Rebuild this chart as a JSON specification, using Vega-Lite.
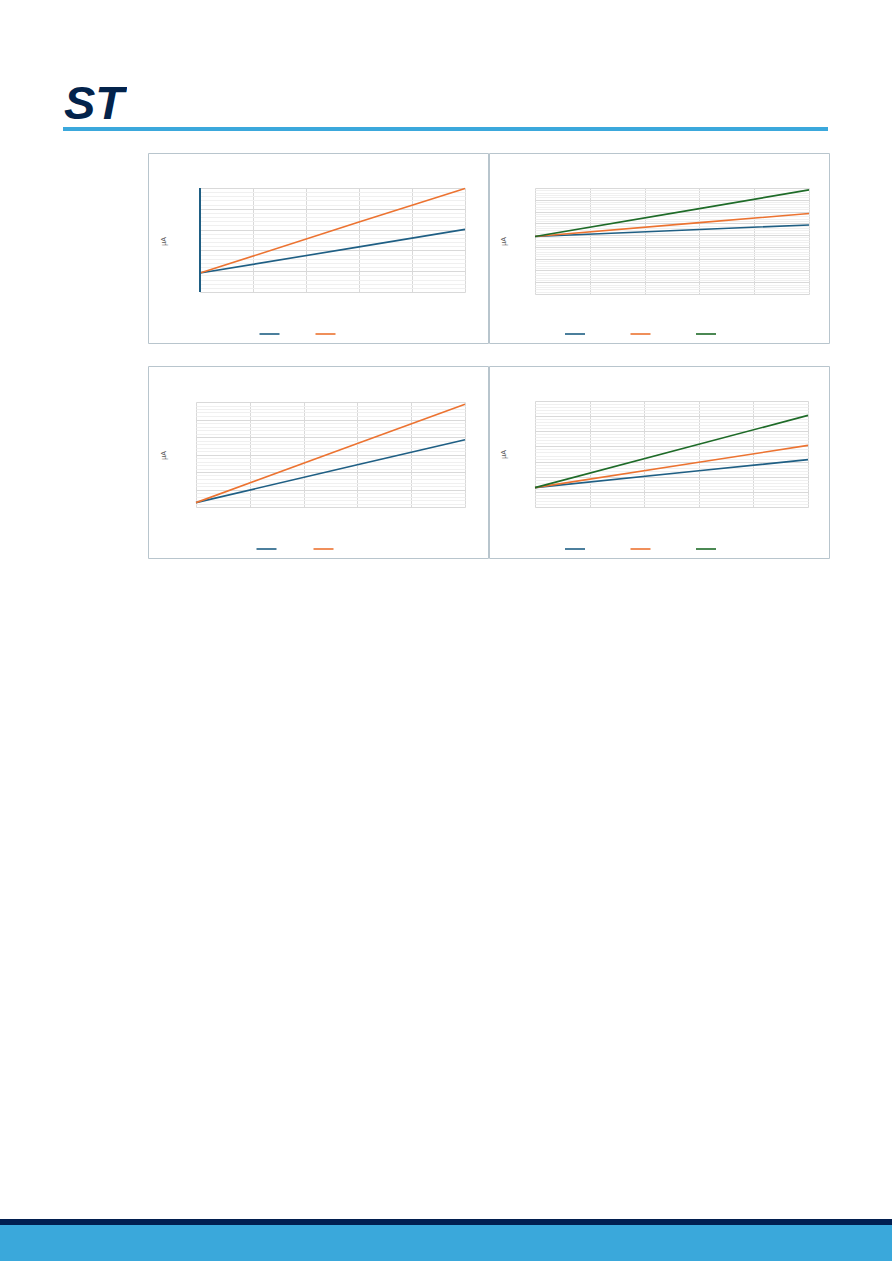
{
  "$schema": "https://vega.github.io/schema/vega-lite/v6.json",
  "padding": 0,
  "background": "#ffffff",
  "spacing": 0,
  "resolve": {"scale": {"color": "independent"}},
  "config": {"view": {"stroke": null}, "font": "Liberation Sans"},
  "datasets": {
    "logo": [{"t": "ST"}],
    "p1": [
      {"x": 0, "y": 0.91, "s": "s1"}, {"x": 3, "y": 2.17, "s": "s1"}, {"x": 5, "y": 3.01, "s": "s1"},
      {"x": 0, "y": 0.91, "s": "s2"}, {"x": 3, "y": 3.36, "s": "s2"}, {"x": 5, "y": 4.98, "s": "s2"}
    ],
    "p2": [
      {"x": 0, "y": 4.88, "s": "s1"}, {"x": 3, "y": 5.48, "s": "s1"}, {"x": 5, "y": 5.86, "s": "s1"},
      {"x": 0, "y": 4.88, "s": "s2"}, {"x": 3, "y": 6.06, "s": "s2"}, {"x": 5, "y": 6.83, "s": "s2"},
      {"x": 0, "y": 4.88, "s": "s3"}, {"x": 3, "y": 7.25, "s": "s3"}, {"x": 5, "y": 8.84, "s": "s3"}
    ],
    "p3": [
      {"x": 0, "y": 0.25, "s": "s1"}, {"x": 3, "y": 2.41, "s": "s1"}, {"x": 5, "y": 3.84, "s": "s1"},
      {"x": 0, "y": 0.25, "s": "s2"}, {"x": 3, "y": 3.63, "s": "s2"}, {"x": 5, "y": 5.87, "s": "s2"}
    ],
    "p4": [
      {"x": 0, "y": 1.28, "s": "s1"}, {"x": 3, "y": 2.39, "s": "s1"}, {"x": 5, "y": 3.13, "s": "s1"},
      {"x": 0, "y": 1.28, "s": "s2"}, {"x": 3, "y": 2.95, "s": "s2"}, {"x": 5, "y": 4.07, "s": "s2"},
      {"x": 0, "y": 1.28, "s": "s3"}, {"x": 3, "y": 4.14, "s": "s3"}, {"x": 5, "y": 6.05, "s": "s3"}
    ]
  },
  "vconcat": [
    {"width": 10, "height": 85, "data": {"values": []}, "mark": {"type": "rule"}, "encoding": {}},
    {
      "hconcat": [
        {"width": 61, "height": 34, "data": {"values": []}, "mark": {"type": "rule"}, "encoding": {}},
        {
          "width": 66, "height": 34,
          "data": {"name": "logo"},
          "mark": {"type": "text", "clip": true, "font": "Liberation Sans", "fontStyle": "italic", "fontWeight": "bold", "fontSize": 47, "color": "#03234b", "align": "center", "baseline": "alphabetic", "dy": 17},
          "encoding": {"text": {"field": "t", "type": "nominal"}}
        }
      ],
      "spacing": 0
    },
    {"width": 10, "height": 8, "data": {"values": []}, "mark": {"type": "rule"}, "encoding": {}},
    {
      "hconcat": [
        {"width": 63, "height": 4, "data": {"values": []}, "mark": {"type": "rule"}, "encoding": {}},
        {"width": 765, "height": 4, "view": {"fill": "#3ba8dc", "stroke": null}, "data": {"values": []}, "mark": {"type": "rule"}, "encoding": {}}
      ],
      "spacing": 0
    },
    {"width": 10, "height": 20.5, "data": {"values": []}, "mark": {"type": "rule"}, "encoding": {}},
    {
      "resolve": {"scale": {"color": "independent"}},
      "hconcat": [
        {"width": 147.5, "height": 190, "data": {"values": []}, "mark": {"type": "rule"}, "encoding": {}},
        {
          "width": 340, "height": 190,
          "view": {"stroke": "#b8c5cd", "strokeWidth": 1},
          "data": {"name": "p1"},
          "layer": [
            {
              "mark": {"type": "line", "strokeWidth": 1.6},
              "encoding": {
                "x": {"field": "x", "type": "quantitative", "scale": {"domain": [0, 5], "range": [52, 317], "nice": false, "zero": false},
                  "axis": {"orient": "top", "values": [0, 1, 2, 3, 4, 5], "grid": true, "gridColor": "#d9d9d9", "labels": false, "ticks": false, "domain": false, "title": null}},
                "y": {"field": "y", "type": "quantitative", "scale": {"domain": [0, 5], "range": [139, 35], "nice": false, "zero": false},
                  "axis": {"values": [0, 0.2, 0.4, 0.6, 0.8, 1, 1.2, 1.4, 1.6, 1.8, 2, 2.2, 2.4, 2.6, 2.8, 3, 3.2, 3.4, 3.6, 3.8, 4, 4.2, 4.4, 4.6, 4.8, 5],
                    "grid": true, "gridColor": {"condition": {"test": "datum.value % 1 === 0", "value": "#d9d9d9"}, "value": "#f0f0f0"},
                    "labels": false, "ticks": false, "domain": false,
                    "title": "µA", "titleX": 15, "titleY": 88, "titleAngle": -90, "titleAlign": "center", "titleBaseline": "middle", "titleFontSize": 7, "titleFontWeight": "normal", "titleColor": "#595959"}},
                "color": {"field": "s", "type": "nominal", "scale": {"domain": ["s1", "s2"], "range": ["#1f5f84", "#ec7331"]},
                  "legend": {"orient": "none", "legendX": 110.5, "legendY": 170, "direction": "horizontal", "title": null, "symbolType": "stroke", "symbolSize": 400, "symbolStrokeWidth": 1.6, "labelExpr": "''", "labelOffset": 0, "columnPadding": 28, "padding": 0}}
              }
            },
            {
              "mark": {"type": "rule", "color": "#1f5f84", "strokeWidth": 1.3},
              "encoding": {
                "x": {"datum": 0, "type": "quantitative",
                  "axis": {"orient": "top", "values": [0, 1, 2, 3, 4, 5], "grid": true, "gridColor": "#d9d9d9", "labels": false, "ticks": false, "domain": false, "title": null}},
                "y": {"datum": 0, "type": "quantitative",
                  "axis": {"values": [0, 0.2, 0.4, 0.6, 0.8, 1, 1.2, 1.4, 1.6, 1.8, 2, 2.2, 2.4, 2.6, 2.8, 3, 3.2, 3.4, 3.6, 3.8, 4, 4.2, 4.4, 4.6, 4.8, 5],
                    "grid": true, "gridColor": {"condition": {"test": "datum.value % 1 === 0", "value": "#d9d9d9"}, "value": "#f0f0f0"},
                    "labels": false, "ticks": false, "domain": false,
                    "title": "µA", "titleX": 15, "titleY": 88, "titleAngle": -90, "titleAlign": "center", "titleBaseline": "middle", "titleFontSize": 7, "titleFontWeight": "normal", "titleColor": "#595959"}},
                "y2": {"datum": 5}
              }
            }
          ]
        },
        {
          "width": 340, "height": 190,
          "view": {"stroke": "#b8c5cd", "strokeWidth": 1},
          "data": {"name": "p2"},
          "mark": {"type": "line", "strokeWidth": 1.6},
          "encoding": {
            "x": {"field": "x", "type": "quantitative", "scale": {"domain": [0, 5], "range": [46, 320], "nice": false, "zero": false},
              "axis": {"orient": "top", "values": [0, 1, 2, 3, 4, 5], "grid": true, "gridColor": "#d9d9d9", "labels": false, "ticks": false, "domain": false, "title": null}},
            "y": {"field": "y", "type": "quantitative", "scale": {"domain": [0, 9], "range": [141, 35], "nice": false, "zero": false},
              "axis": {"values": [0, 0.2, 0.4, 0.6, 0.8, 1, 1.2, 1.4, 1.6, 1.8, 2, 2.2, 2.4, 2.6, 2.8, 3, 3.2, 3.4, 3.6, 3.8, 4, 4.2, 4.4, 4.6, 4.8, 5, 5.2, 5.4, 5.6, 5.8, 6, 6.2, 6.4, 6.6, 6.8, 7, 7.2, 7.4, 7.6, 7.8, 8, 8.2, 8.4, 8.6, 8.8, 9],
                "grid": true, "gridColor": {"condition": {"test": "datum.value % 1 === 0", "value": "#d9d9d9"}, "value": "#f0f0f0"},
                "labels": false, "ticks": false, "domain": false,
                "title": "µA", "titleX": 14, "titleY": 88, "titleAngle": -90, "titleAlign": "center", "titleBaseline": "middle", "titleFontSize": 7, "titleFontWeight": "normal", "titleColor": "#595959"}},
            "color": {"field": "s", "type": "nominal", "scale": {"domain": ["s1", "s2", "s3"], "range": ["#1f5f84", "#ec7331", "#1e6b28"]},
              "legend": {"orient": "none", "legendX": 75, "legendY": 170, "direction": "horizontal", "title": null, "symbolType": "stroke", "symbolSize": 400, "symbolStrokeWidth": 1.6, "labelExpr": "''", "labelOffset": 0, "columnPadding": 37.5, "padding": 0}}
          }
        }
      ],
      "spacing": -2
    },
    {"width": 10, "height": 21, "data": {"values": []}, "mark": {"type": "rule"}, "encoding": {}},
    {
      "resolve": {"scale": {"color": "independent"}},
      "hconcat": [
        {"width": 147.5, "height": 192, "data": {"values": []}, "mark": {"type": "rule"}, "encoding": {}},
        {
          "width": 340, "height": 192,
          "view": {"stroke": "#b8c5cd", "strokeWidth": 1},
          "data": {"name": "p3"},
          "mark": {"type": "line", "strokeWidth": 1.6},
          "encoding": {
            "x": {"field": "x", "type": "quantitative", "scale": {"domain": [0, 5], "range": [48, 317], "nice": false, "zero": false},
              "axis": {"orient": "top", "values": [0, 1, 2, 3, 4, 5], "grid": true, "gridColor": "#d9d9d9", "labels": false, "ticks": false, "domain": false, "title": null}},
            "y": {"field": "y", "type": "quantitative", "scale": {"domain": [0, 6], "range": [141, 36], "nice": false, "zero": false},
              "axis": {"values": [0, 0.2, 0.4, 0.6, 0.8, 1, 1.2, 1.4, 1.6, 1.8, 2, 2.2, 2.4, 2.6, 2.8, 3, 3.2, 3.4, 3.6, 3.8, 4, 4.2, 4.4, 4.6, 4.8, 5, 5.2, 5.4, 5.6, 5.8, 6],
                "grid": true, "gridColor": {"condition": {"test": "datum.value % 1 === 0", "value": "#d9d9d9"}, "value": "#f0f0f0"},
                "labels": false, "ticks": false, "domain": false,
                "title": "µA", "titleX": 15, "titleY": 89, "titleAngle": -90, "titleAlign": "center", "titleBaseline": "middle", "titleFontSize": 7, "titleFontWeight": "normal", "titleColor": "#595959"}},
            "color": {"field": "s", "type": "nominal", "scale": {"domain": ["s1", "s2"], "range": ["#1f5f84", "#ec7331"]},
              "legend": {"orient": "none", "legendX": 107.5, "legendY": 172, "direction": "horizontal", "title": null, "symbolType": "stroke", "symbolSize": 400, "symbolStrokeWidth": 1.6, "labelExpr": "''", "labelOffset": 0, "columnPadding": 29, "padding": 0}}
          }
        },
        {
          "width": 340, "height": 192,
          "view": {"stroke": "#b8c5cd", "strokeWidth": 1},
          "data": {"name": "p4"},
          "mark": {"type": "line", "strokeWidth": 1.6},
          "encoding": {
            "x": {"field": "x", "type": "quantitative", "scale": {"domain": [0, 5], "range": [46, 319], "nice": false, "zero": false},
              "axis": {"orient": "top", "values": [0, 1, 2, 3, 4, 5], "grid": true, "gridColor": "#d9d9d9", "labels": false, "ticks": false, "domain": false, "title": null}},
            "y": {"field": "y", "type": "quantitative", "scale": {"domain": [0, 7], "range": [141, 35], "nice": false, "zero": false},
              "axis": {"values": [0, 0.2, 0.4, 0.6, 0.8, 1, 1.2, 1.4, 1.6, 1.8, 2, 2.2, 2.4, 2.6, 2.8, 3, 3.2, 3.4, 3.6, 3.8, 4, 4.2, 4.4, 4.6, 4.8, 5, 5.2, 5.4, 5.6, 5.8, 6, 6.2, 6.4, 6.6, 6.8, 7],
                "grid": true, "gridColor": {"condition": {"test": "datum.value % 1 === 0", "value": "#d9d9d9"}, "value": "#f0f0f0"},
                "labels": false, "ticks": false, "domain": false,
                "title": "µA", "titleX": 14, "titleY": 88, "titleAngle": -90, "titleAlign": "center", "titleBaseline": "middle", "titleFontSize": 7, "titleFontWeight": "normal", "titleColor": "#595959"}},
            "color": {"field": "s", "type": "nominal", "scale": {"domain": ["s1", "s2", "s3"], "range": ["#1f5f84", "#ec7331", "#1e6b28"]},
              "legend": {"orient": "none", "legendX": 75, "legendY": 172, "direction": "horizontal", "title": null, "symbolType": "stroke", "symbolSize": 400, "symbolStrokeWidth": 1.6, "labelExpr": "''", "labelOffset": 0, "columnPadding": 37.5, "padding": 0}}
          }
        }
      ],
      "spacing": -2
    },
    {"width": 10, "height": 659.5, "data": {"values": []}, "mark": {"type": "rule"}, "encoding": {}},
    {"width": 892, "height": 6, "view": {"fill": "#011f50", "stroke": null}, "data": {"values": []}, "mark": {"type": "rule"}, "encoding": {}},
    {"width": 892, "height": 37, "view": {"fill": "#3aa8db", "stroke": null}, "data": {"values": []}, "mark": {"type": "rule"}, "encoding": {}}
  ]
}
